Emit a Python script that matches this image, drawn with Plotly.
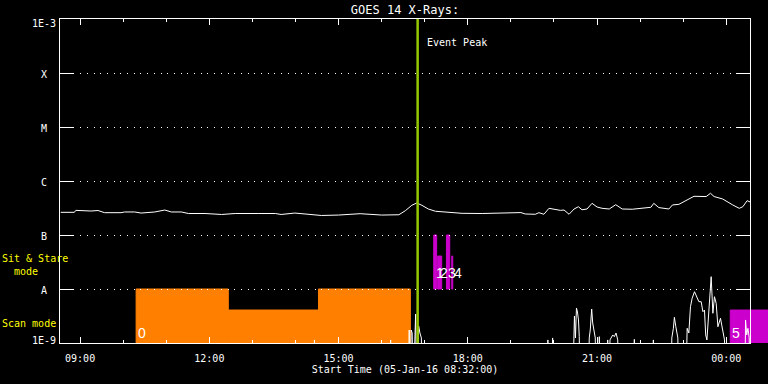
import math
from datetime import datetime, timedelta
import plotly.graph_objects as go

# ---------------- data ----------------
START = "08:32:00"
END = "00:33:00"
PEAK = "16:50:06"

# GOES 1-8 A (long) channel
long_t = ["08:33","08:52","08:54","09:04","09:15","09:25","09:34","09:57","10:02","10:16",
          "10:25","10:44","10:51","10:58","11:07","11:21","11:31","11:54","12:17","12:36",
          "13:08","13:32","13:40","13:53","13:59","14:36","15:00","15:30","16:00","16:24",
          "16:33","16:42","16:49","16:56","17:05","17:15","17:29","17:52","18:20","18:48",
          "19:14","19:20","19:34","19:39","19:46","19:53","20:00","20:09","20:14","20:21",
          "20:28","20:34","20:39","20:46","20:53","21:00","21:07","21:17","21:26","21:35",
          "21:49","22:08","22:15","22:19","22:26","22:40","22:45","22:54","23:08","23:15",
          "23:32","23:38","23:43","23:55","00:09","00:18","00:23","00:29","00:33"]
long_f = [2.63e-7,2.63e-7,2.86e-7,2.78e-7,2.78e-7,2.84e-7,2.59e-7,2.59e-7,2.67e-7,2.67e-7,
          2.55e-7,2.67e-7,2.82e-7,2.90e-7,2.67e-7,2.67e-7,2.50e-7,2.50e-7,2.40e-7,2.50e-7,
          2.50e-7,2.50e-7,2.40e-7,2.45e-7,2.55e-7,2.30e-7,2.34e-7,2.48e-7,2.34e-7,2.37e-7,
          2.82e-7,3.55e-7,3.92e-7,3.55e-7,3.03e-7,2.75e-7,2.63e-7,2.52e-7,2.50e-7,2.55e-7,
          2.60e-7,2.45e-7,2.42e-7,2.59e-7,2.42e-7,3.12e-7,3.03e-7,2.86e-7,2.90e-7,2.42e-7,
          3.03e-7,3.34e-7,2.93e-7,3.03e-7,3.86e-7,3.30e-7,3.12e-7,3.03e-7,3.64e-7,3.03e-7,
          3.00e-7,3.12e-7,3.26e-7,3.86e-7,3.22e-7,3.03e-7,3.60e-7,3.70e-7,4.64e-7,5.21e-7,
          5.15e-7,5.92e-7,5.15e-7,4.64e-7,3.60e-7,3.12e-7,3.34e-7,4.32e-7,4.10e-7]

# GOES 0.5-4 A (short) channel, mostly below 1E-9
short_t = ["14:25:50","14:26:24","14:27:00","16:11:50","16:12:30","16:13:10",
           "16:37:40","16:38:20","16:39:40","16:41:06","16:42:30","16:43:54","16:47:18","16:48:42",
           "16:51:30","16:53:18","16:55:18","16:56:24",
           "19:51:00","19:51:30","19:52:00","19:57:36","19:58:06","19:58:40",
           "20:25:42","20:27:06","20:28:30","20:29:54","20:31:18","20:32:42","20:34:06","20:35:12","20:36:12",
           "20:48:00","20:49:06","20:50:30","20:52:30","20:53:54","20:56:06","20:57:30","20:58:30",
           "21:02:40","21:03:06","21:03:40",
           "21:14:20","21:14:48","21:16:36","21:18:00","21:21:48","21:24:00","21:26:24","21:28:48","21:29:54",
           "21:51:30","21:51:54","21:52:20","22:18:00","22:18:24","22:18:50",
           "22:43:06","22:44:06","22:46:18","22:47:42","22:49:42","22:52:30","22:53:36",
           "23:03:24","23:05:30","23:07:48","23:10:06","23:12:24","23:15:42","23:19:00","23:21:48",
           "23:25:00","23:27:24","23:29:36","23:31:18","23:33:00","23:34:24","23:36:36","23:38:54",
           "23:41:18","23:43:30","23:45:54","23:48:18","23:51:54","23:55:18","23:57:30","23:58:30",
           "00:25:42","00:26:48","00:28:24","00:30:06","00:31:54","00:33:00"]
short_f = [1e-10,1.14e-9,1e-10,1e-10,1.14e-9,1e-10,
           1e-10,1.74e-9,1e-10,1.74e-9,1.53e-9,1e-10,3.44e-9,1e-10,
           2.07e-9,1.53e-9,1.24e-9,1e-10,
           1e-10,1.14e-9,1e-10,1e-10,1.24e-9,1e-10,
           1e-10,1.53e-9,3.16e-9,1.24e-9,4.45e-9,3.75e-9,2.67e-9,1.31e-9,1e-10,
           1e-10,1.24e-9,1.74e-9,4.26e-9,2.35e-9,1.62e-9,1.24e-9,1e-10,
           1e-10,1.31e-9,1e-10,
           1e-10,1.14e-9,1e-10,1.14e-9,1.41e-9,1.31e-9,1.53e-9,1.14e-9,1e-10,
           1e-10,1.17e-9,1e-10,1e-10,1.14e-9,1e-10,
           1e-10,1.24e-9,1.87e-9,2.99e-9,2.00e-9,1.24e-9,1e-10,
           1e-10,1.87e-9,1.53e-9,4.70e-9,6.73e-9,8.91e-9,7.20e-9,5.82e-9,
           5.82e-9,3.80e-9,4.08e-9,1.41e-9,1.14e-9,2.00e-9,5.05e-9,1.69e-8,
           3.55e-9,7.20e-9,5.43e-9,2.00e-9,2.87e-9,1.62e-9,1.14e-9,1e-10,
           1e-10,2.67e-9,1.41e-9,1.87e-9,1.24e-9,1e-10]

# IRIS observations
obs_start = ["10:18:00","12:26:24","14:32:00","17:12:30","17:18:00","17:30:12","17:37:36","00:05:30"]
obs_end   = ["12:26:24","14:32:00","16:40:00","17:16:36","17:23:36","17:34:48","17:39:00","01:30:00"]
obs_low   = [1e-9, 1e-9, 1e-9, 1e-8, 1e-8, 1e-8, 1e-8, 1e-9]
obs_high  = [1e-8, 4.08e-9, 1e-8, 1e-7, 4.08e-8, 1e-7, 4.08e-8, 4.08e-9]
obs_color = ["#FF8000", "#FF8000", "#FF8000", "#CC00CC", "#CC00CC", "#CC00CC", "#CC00CC", "#CC00CC"]
obs_label = ["0", "", "", "1", "2", "3", "4", "5"]
obs_label_y = [1.53e-9, None, None, 2.02e-8, 2.02e-8, 2.02e-8, 2.02e-8, 1.53e-9]

ytick_vals = [1e-9, 1e-8, 1e-7, 1e-6, 1e-5, 1e-4, 1e-3]
ytick_text = ["1E-9", "A", "B", "C", "M", "X", "1E-3"]


def ts(hms):
    parts = hms.split(":")
    h = int(parts[0])
    day = "2016-01-06" if h < 8 else "2016-01-05"
    if len(parts) == 2:
        hms = hms + ":00"
    return f"{day} {hms}"


MONO = "DejaVu Sans Mono"
fig = go.Figure()

# IRIS blocks on the wide (hidden) subplot, same time scale
for s, e, lo, hi, c in zip(obs_start, obs_end, obs_low, obs_high, obs_color):
    fig.add_trace(go.Scatter(
        x=[ts(s), ts(s), ts(e), ts(e), ts(s)], y=[lo, hi, hi, lo, lo],
        mode="lines", fill="toself", fillcolor=c, line=dict(width=1, color=c),
        xaxis="x", yaxis="y", hoverinfo="skip", showlegend=False))

# GOES curves on main subplot
fig.add_trace(go.Scatter(x=[ts(t) for t in short_t], y=short_f, mode="lines",
                         line=dict(color="white", width=1), xaxis="x2", yaxis="y2",
                         showlegend=False))
fig.add_trace(go.Scatter(x=[ts(t) for t in long_t], y=long_f, mode="lines",
                         line=dict(color="white", width=1), xaxis="x2", yaxis="y2",
                         showlegend=False))

# geometry
W, H = 768, 384
ML, MR, MT, MB = 60, 0, 19, 41
main_right_px = 750
d = (main_right_px - ML) / (W - ML - MR)
t0 = datetime.strptime(ts(START), "%Y-%m-%d %H:%M:%S")
t1 = datetime.strptime(ts(END), "%Y-%m-%d %H:%M:%S")
t_wide = t0 + (t1 - t0) / d

annotations = []
for v, txt in zip(ytick_vals, ytick_text):
    ys = -4 if txt == "1E-3" else (3 if txt == "1E-9" else -1)
    annotations.append(dict(x=0, xref="paper", xanchor="center", xshift=-16,
                            y=math.log10(v), yref="y2", yanchor="middle", yshift=ys,
                            text=txt, showarrow=False,
                            font=dict(family=MONO, size=10, color="white")))
for s, lab, ly in zip(obs_start, obs_label, obs_label_y):
    if lab:
        annotations.append(dict(x=ts(s), xref="x", xanchor="left", xshift=0,
                                y=math.log10(ly), yref="y", yanchor="middle",
                                text=lab, showarrow=False,
                                font=dict(family="Liberation Sans", size=14, color="white")))
annotations.append(dict(x=ts(PEAK), xref="x2", xanchor="left", xshift=7,
                        y=-3.44, yref="y2", yanchor="middle", text="Event Peak",
                        showarrow=False, font=dict(family=MONO, size=10, color="white")))
annotations.append(dict(x=0, xref="paper", xanchor="left", xshift=-60,
                        y=-7.55, yref="y2", yanchor="middle", align="left",
                        text="Sit & Stare<br>\u00a0\u00a0mode", showarrow=False,
                        font=dict(family=MONO, size=10, color="#FFFF00")))
annotations.append(dict(x=0, xref="paper", xanchor="left", xshift=-60,
                        y=-8.64, yref="y2", yanchor="middle", align="left",
                        text="Scan mode", showarrow=False,
                        font=dict(family=MONO, size=10, color="#FFFF00")))

fig.update_layout(
    width=W, height=H,
    margin=dict(l=ML, r=MR, t=MT, b=MB, pad=0),
    paper_bgcolor="black", plot_bgcolor="rgba(0,0,0,0)",
    showlegend=False,
    title=dict(text="GOES 14 X-Rays:", x=d / 2, xref="paper", xanchor="center",
               y=1 - 10 / H, yref="container", yanchor="middle",
               font=dict(family=MONO, size=12, color="white")),
    xaxis=dict(domain=[0, 1], range=[ts(START), t_wide.strftime("%Y-%m-%d %H:%M:%S")],
               type="date", visible=False, anchor="y"),
    yaxis=dict(domain=[0, 1], range=[-9, -3], type="log", visible=False, anchor="x"),
    xaxis2=dict(domain=[0, d], range=[ts(START), ts(END)], type="date", anchor="y2",
                tick0=ts("09:00"), dtick=3 * 3600 * 1000, tickformat="%H:%M",
                ticks="inside", ticklen=6, tickcolor="white", tickwidth=1,
                minor=dict(dtick=3600 * 1000, tick0=ts("09:00"), ticks="inside",
                           ticklen=3, tickcolor="white", showgrid=False),
                showline=True, linecolor="white", linewidth=1, mirror="ticks",
                showgrid=False, zeroline=False, ticklabelstandoff=6,
                tickfont=dict(family=MONO, size=10, color="white"),
                title=dict(text="Start Time (05-Jan-16 08:32:00)", standoff=1,
                           font=dict(family=MONO, size=10, color="white"))),
    yaxis2=dict(domain=[0, 1], range=[-9, -3], type="log", anchor="x2",
                tickvals=ytick_vals, showticklabels=False,
                ticks="inside", ticklen=14, tickcolor="white", tickwidth=1,
                showline=True, linecolor="white", linewidth=1, mirror="ticks",
                showgrid=True, gridcolor="white", gridwidth=1, griddash="1px,5.7px",
                zeroline=False),
    annotations=annotations,
    shapes=[dict(type="line", xref="x2", yref="paper", x0=ts(PEAK), x1=ts(PEAK),
                 y0=0, y1=1, line=dict(color="#96C800", width=2.5), layer="above")],
)

fig.write_html("out.html", config={"displayModeBar": False},
               post_script="document.body.style.margin='0px';document.body.style.padding='0px';")
